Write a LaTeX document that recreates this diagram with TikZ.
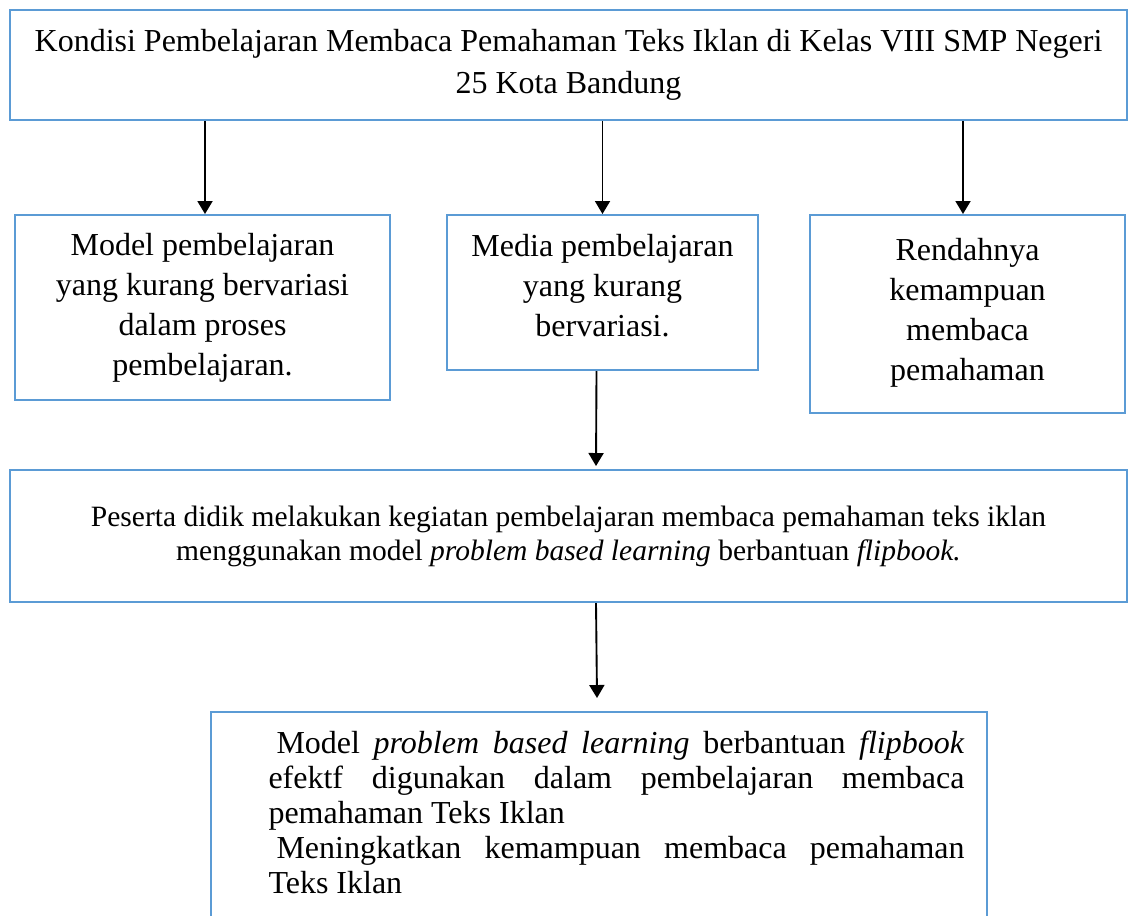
\documentclass[tikz,border=0pt]{standalone}
\usepackage{fontspec}
\setmainfont{Liberation Serif}
\usetikzlibrary{arrows.meta,calc}
\definecolor{BoxLine}{HTML}{5B9BD5}

\begin{document}
\begin{tikzpicture}[
    x=0.4pt, y=-0.4pt,
    box/.style={draw=BoxLine, line width=0.8pt, rectangle, align=center, inner sep=0pt},
    bigtext/.style={font={\fontsize{12.8}{16}\selectfont}},
    smalltext/.style={font={\fontsize{11.8}{13.6}\selectfont}},
    bodytext/.style={font={\fontsize{12.8}{14}\selectfont}, align=justify, inner sep=0pt},
    flow/.style={-{Triangle[length=5.2pt,width=6pt]}, line width=0.75pt},
    ]
    \useasboundingbox (0,0) rectangle (1130,915);

    \node [box, font={\fontsize{12.8}{16.8}\selectfont}, minimum width=446.8pt, minimum height=44pt] (kondisi) at (568.5,65)
      {Kondisi Pembelajaran Membaca Pemahaman Teks Iklan di Kelas VIII SMP Negeri\\25 Kota Bandung};

    \node [box, bigtext, minimum width=150pt, minimum height=74pt] (model) at (202.5,307.5)
      {Model pembelajaran\\yang kurang bervariasi\\dalam proses\\pembelajaran.};
    \node [box, bigtext, minimum width=124.4pt, minimum height=62pt] (media) at (602.5,292.5)
      {Media pembelajaran\\yang kurang\\bervariasi.\\[-10pt]};
    \node [box, bigtext, minimum width=126pt, minimum height=79.2pt] (rendah) at (967.5,314)
      {Rendahnya\\kemampuan\\membaca\\pemahaman\\[-12pt]};

    \node [box, smalltext, minimum width=446.8pt, minimum height=52.8pt] (kegiatan) at (568.5,536)
      {Peserta didik melakukan kegiatan pembelajaran membaca pemahaman teks iklan\\
       menggunakan model \textit{problem based learning} berbantuan \textit{flipbook.}};

    % kotak hasil terpotong di tepi bawah
    \node [box, anchor=north west, minimum width=310.4pt, minimum height=88pt] (hasil) at (210,711) {};
    \node [bodytext, text width=278.4pt, anchor=north west] (hasiltext) at (268,730)
      {\hspace*{0.25em}Model \textit{problem based learning} berbantuan \textit{flipbook}\linebreak
       efektf digunakan dalam pembelajaran membaca\linebreak
       pemahaman Teks Iklan\par
       \hspace*{0.25em}Meningkatkan kemampuan membaca pemahaman\linebreak
       Teks Iklan};

    \draw[flow] (kondisi.south -| 205,0) -- (205,214);
    \draw[flow] (kondisi.south -| media.north) -- (media.north);
    \draw[flow] (kondisi.south -| 963,0) -- (963,214);
    \draw[flow] ($(media.south)+(-6,0)$) -- ($(kegiatan.north)+(27.5,-3)$);
    \draw[flow] ($(kegiatan.south)+(27.5,0)$) -- ($(hasil.north)+(-2,-13)$);
\end{tikzpicture}
\end{document}
